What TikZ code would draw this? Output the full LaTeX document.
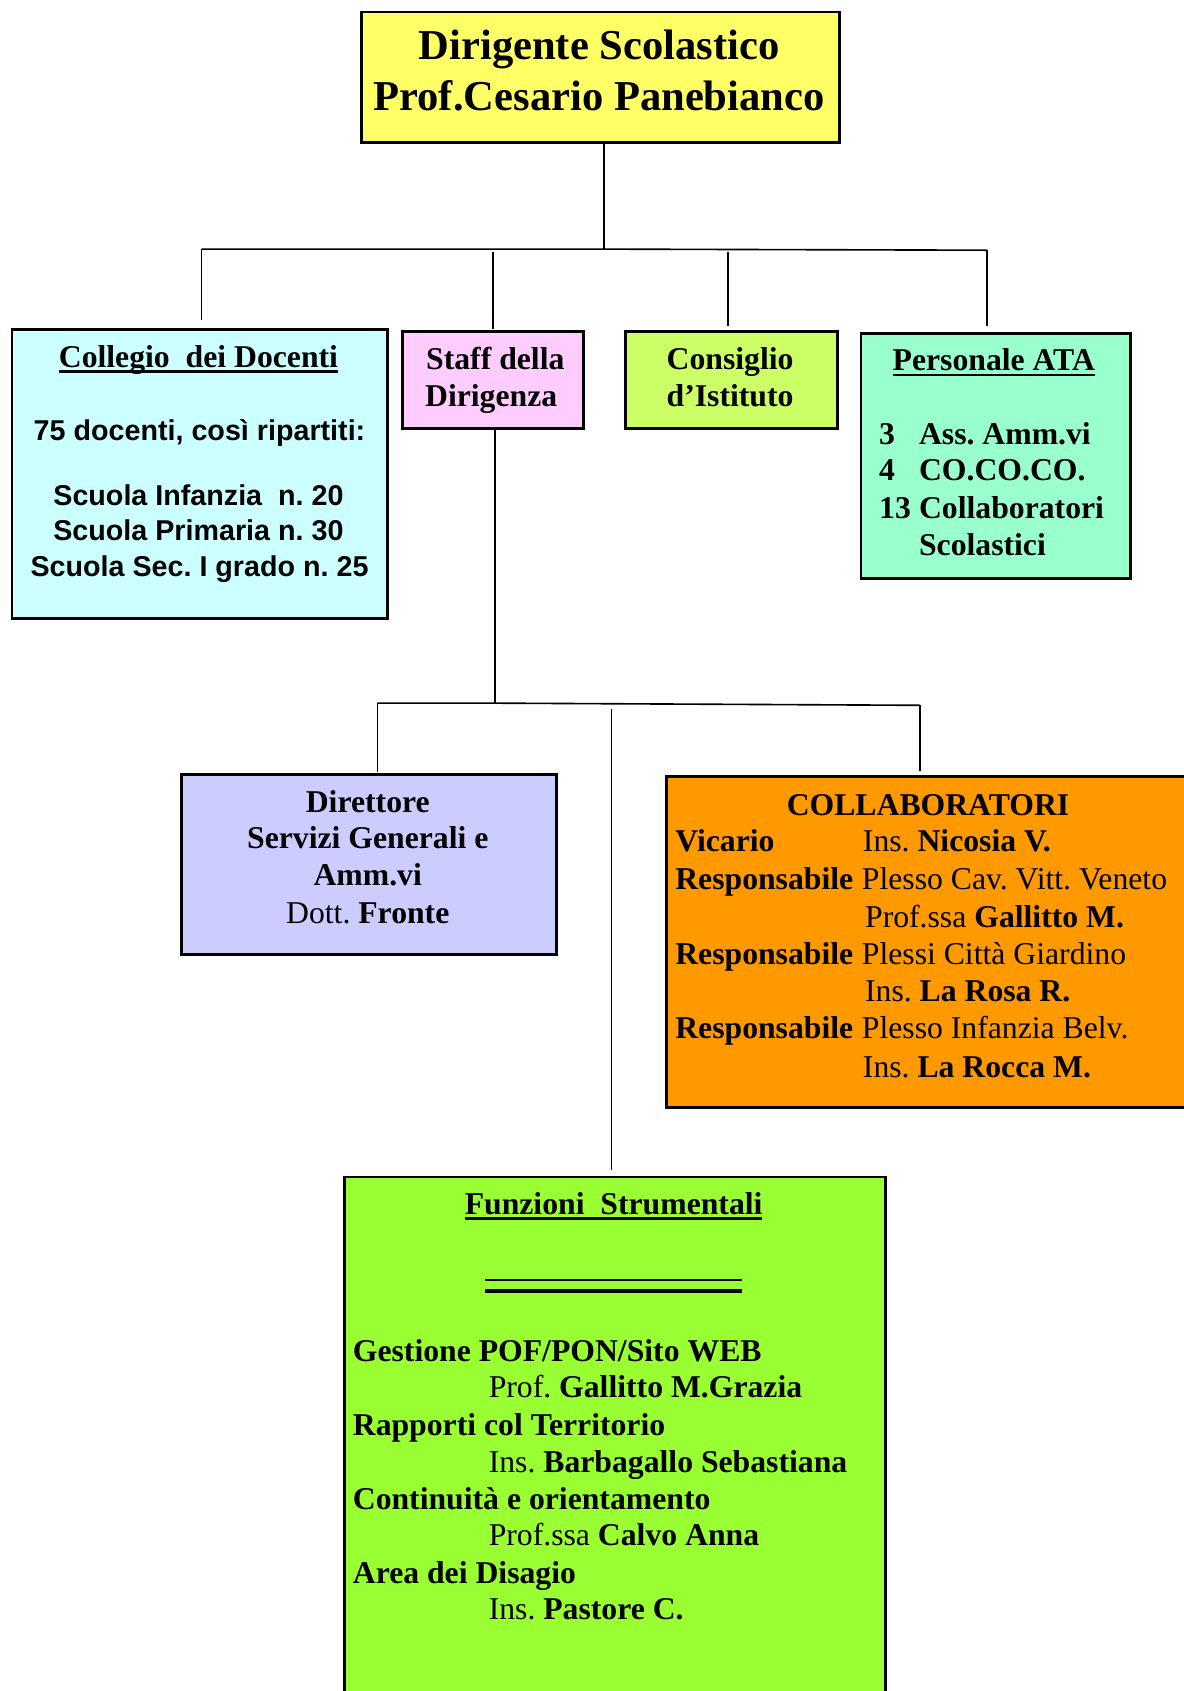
\documentclass[tikz,border=0pt]{standalone}
\usepackage{fontspec}
\setmainfont{Liberation Serif}
\newfontfamily\sansfam{Liberation Sans}
\frenchspacing
\definecolor{cyellow}{HTML}{FFFF66}
\definecolor{ccyan}{HTML}{CCFFFF}
\definecolor{cpink}{HTML}{FFCCFF}
\definecolor{clime}{HTML}{CCFF66}
\definecolor{cmint}{HTML}{99FFCC}
\definecolor{clav}{HTML}{CCCCFF}
\definecolor{corange}{HTML}{FF9900}
\definecolor{cgreen}{HTML}{99FF33}
\newcommand{\fbody}{\fontsize{29.4pt}{34pt}\selectfont}
\newcommand{\ftop}{\fontsize{39.5pt}{47pt}\selectfont}
\newcommand{\fsans}{\sansfam\bfseries\fontsize{26.6pt}{33pt}\selectfont}
\newcommand{\ulx}[1]{\setbox0\hbox{#1}\rlap{\rule[-5pt]{\wd0}{2.5pt}}\box0}
\tikzset{
  box/.style={draw=black, line width=2.5pt, anchor=north west, inner sep=0pt},
  conn/.style={draw=black, line width=1.5pt},
  tc/.style={inner sep=0pt, anchor=base, font=\fbody},
  tl/.style={inner sep=0pt, anchor=base west, font=\fbody},
}
\begin{document}
\begin{tikzpicture}[x=1pt, y=-1pt]
\frenchspacing
\useasboundingbox (0,0) rectangle (1097,1568);
% boxes
\node[box, fill=cyellow, minimum width=443pt, minimum height=121pt] (top) at (334,10) {};
\node[box, fill=ccyan, minimum width=348pt, minimum height=268pt] (coll) at (10,304) {};
\node[box, fill=cpink, minimum width=168pt, minimum height=90pt] (staff) at (372,306) {};
\node[box, fill=clime, minimum width=196pt, minimum height=90pt] (cons) at (579,306) {};
\node[box, fill=cmint, minimum width=250pt, minimum height=227pt] (ata) at (797,308) {};
\node[box, fill=clav, minimum width=348pt, minimum height=167pt] (dir) at (167,717) {};
\node[box, fill=corange, minimum width=520pt, minimum height=307pt] (collab) at (617,719) {};
\node[box, fill=cgreen, minimum width=502pt, minimum height=520pt] (funz) at (318,1090) {};
% connectors, first level
\coordinate (j1) at (560,231);
\coordinate (b1l) at (187,231);
\coordinate (b1r) at (915,232);
\coordinate (d2) at (457,234);
\coordinate (d3) at (675,234);
\draw[conn] (top.south -| j1) -- (j1);
\draw[conn] (b1l) -- (j1) -- (b1r);
\draw[conn] (b1l) -- ([yshift=7pt]coll.north -| b1l);
\draw[conn] (d2) -- ([yshift=1pt]staff.north -| d2);
\draw[conn] (d3) -- ([yshift=4pt]cons.north -| d3);
\draw[conn] (b1r) -- ([yshift=6pt]ata.north -| b1r);
% connectors, second level
\coordinate (j2) at (459,652);
\coordinate (b2l) at (350,652);
\coordinate (b2r) at (853,654);
\coordinate (f0) at (567,657);
\draw[conn] (staff.south -| j2) -- (j2);
\draw[conn] (b2l) -- (j2) -- (b2r);
\draw[conn] (b2l) -- ([yshift=1pt]dir.north -| b2l);
\draw[conn] (b2r) -- ([yshift=4pt]collab.north -| b2r);
\draw[conn] (f0) -- ([yshift=5pt]funz.north -| f0);
% top text
\node[tc, font=\ftop\bfseries] (t1) at (555.5,55) {Dirigente Scolastico};
\node[tc, font=\ftop\bfseries] (t2) at (555.5,102) {Prof.Cesario Panebianco};
% collegio
\node[tc, font=\fbody\bfseries] (c1) at (184,341) {\ulx{Collegio\ \ dei Docenti}};
\node[tc, font=\fsans] (c2) at (185,408) {75 docenti, così ripartiti:};
\node[tc, font=\fsans] (c3) at (184,469) {Scuola Infanzia\ \ n. 20};
\node[tc, font=\fsans] (c4) at (184,501) {Scuola Primaria n. 30};
\node[tc, font=\fsans] (c5) at (185,535) {Scuola Sec. I grado n. 25};
% staff
\node[tl, font=\fbody\bfseries] (s1) at (395,343) {Staff della};
\node[tl, font=\fbody\bfseries] (s2) at (394,377) {Dirigenza};
% consiglio
\node[tc, font=\fbody\bfseries] (k1) at (677,343) {Consiglio};
\node[tc, font=\fbody\bfseries] (k2) at (677,377) {d’Istituto};
% ATA
\node[tc, font=\fbody\bfseries] (a0) at (921.5,344) {\ulx{Personale ATA}};
\node[tl, font=\fbody\bfseries] (a1n) at (815,412) {3};
\node[tl, font=\fbody\bfseries] (a1) at (852,412) {Ass. Amm.vi};
\node[tl, font=\fbody\bfseries] (a2n) at (815,446) {4};
\node[tl, font=\fbody\bfseries] (a2) at (852,446) {CO.CO.CO.};
\node[tl, font=\fbody\bfseries] (a3n) at (815,481) {13};
\node[tl, font=\fbody\bfseries] (a3) at (852,481) {Collaboratori};
\node[tl, font=\fbody\bfseries] (a4) at (852,515) {Scolastici};
% direttore
\node[tc, font=\fbody\bfseries] (r1) at (341,753) {Direttore};
\node[tc, font=\fbody\bfseries] (r2) at (341,787) {Servizi Generali e};
\node[tc, font=\fbody\bfseries] (r3) at (341,821) {Amm.vi};
\node[tc] (r4) at (341,856) {Dott. \textbf{Fronte}};
% collaboratori
\node[tc, font=\fbody\bfseries] (o0) at (860.5,756) {COLLABORATORI};
\node[tl, font=\fbody\bfseries] (o1) at (626,790) {Vicario};
\node[tl] (o1b) at (800,790) {Ins. \textbf{Nicosia V.}};
\node[tl, font=\fbody\bfseries] (o2) at (626,825) {Responsabile};
\node[tl] (o2b) at (799,825) {Plesso Cav. Vitt. Veneto};
\node[tl] (o3b) at (802,860) {Prof.ssa \textbf{Gallitto M.}};
\node[tl, font=\fbody\bfseries] (o4) at (626,894) {Responsabile};
\node[tl] (o4b) at (799,894) {Plessi Città Giardino};
\node[tl] (o5b) at (802,929) {Ins. \textbf{La Rosa R.}};
\node[tl, font=\fbody\bfseries] (o6) at (626,963) {Responsabile};
\node[tl] (o6b) at (799,963) {Plesso Infanzia Belv.};
\node[tl] (o7b) at (800,999) {Ins. \textbf{La Rocca M.}};
% funzioni
\node[tc, font=\fbody\bfseries] (f1) at (569,1126) {\ulx{Funzioni\ \ Strumentali}};
\coordinate (dl1) at (450,1187);
\coordinate (dr1) at (688,1187);
\coordinate (dl2) at (450,1197);
\coordinate (dr2) at (688,1197);
\draw[line width=2pt] (dl1) -- (dr1);
\draw[line width=4pt] (dl2) -- (dr2);
\node[tl, font=\fbody\bfseries] (g1) at (327,1262) {Gestione POF/PON/Sito WEB};
\node[tl] (g1b) at (453,1296) {Prof. \textbf{Gallitto M.Grazia}};
\node[tl, font=\fbody\bfseries] (g2) at (327,1331) {Rapporti col Territorio};
\node[tl] (g2b) at (453,1365) {Ins. \textbf{Barbagallo Sebastiana}};
\node[tl, font=\fbody\bfseries] (g3) at (327,1400) {Continuità e orientamento};
\node[tl] (g3b) at (453,1433) {Prof.ssa \textbf{Calvo Anna}};
\node[tl, font=\fbody\bfseries] (g4) at (327,1468) {Area dei Disagio};
\node[tl] (g4b) at (453,1502) {Ins. \textbf{Pastore C.}};
\end{tikzpicture}
\end{document}
